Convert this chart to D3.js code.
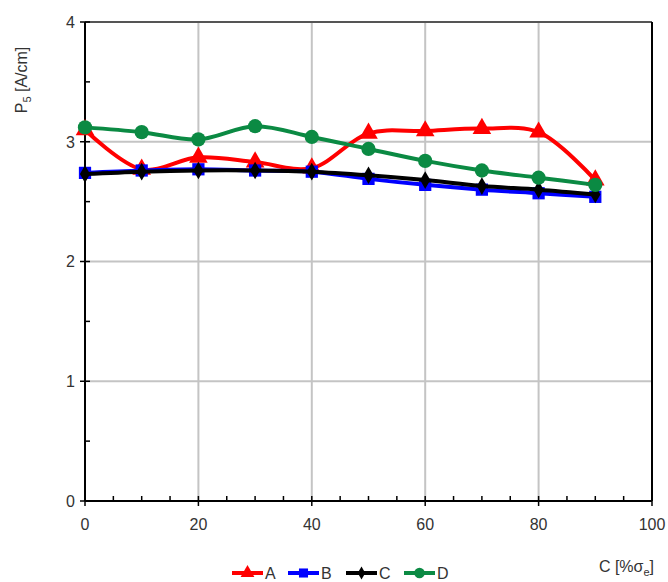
<!DOCTYPE html>
<html>
<head>
<meta charset="utf-8">
<script src="https://cdn.jsdelivr.net/npm/d3@7"></script>
<style>
  body { margin: 0; background: #fff; }
  svg text { font-family: "Liberation Sans", Arial, sans-serif; fill: #333; }
</style>
</head>
<body>
<div id="chart"></div>
<script>
// chart data
var xValues = [0, 10, 20, 30, 40, 50, 60, 70, 80, 90];
var seriesA = [3.10, 2.77, 2.87, 2.83, 2.78, 3.07, 3.09, 3.11, 3.08, 2.68];
var seriesB = [2.74, 2.76, 2.77, 2.76, 2.75, 2.69, 2.64, 2.60, 2.57, 2.54];
var seriesC = [2.73, 2.75, 2.76, 2.76, 2.75, 2.72, 2.68, 2.63, 2.60, 2.56];
var seriesD = [3.12, 3.08, 3.02, 3.13, 3.04, 2.94, 2.84, 2.76, 2.70, 2.64];
var seriesNames = ["A", "B", "C", "D"];
var xTicks = [0, 20, 40, 60, 80, 100];
var yTicks = [0, 1, 2, 3, 4];

var width = 668, height = 582;
var margin = {top: 22, right: 16, bottom: 81, left: 85};

var svg = d3.select('#chart')
  .append('svg')
  .attr('width', width)
  .attr('height', height);

var x = d3.scaleLinear().domain([0, 100]).range([margin.left, width - margin.right]);
var y = d3.scaleLinear().domain([0, 4]).range([height - margin.bottom, margin.top]);

var styles = [
  {color: '#ff0000', marker: 'triangle', size: 150},
  {color: '#0000ff', marker: 'square', size: 150},
  {color: '#000000', marker: 'diamond', size: 90},
  {color: '#0b8a43', marker: 'circle', size: 160}
];
var symbolType = {
  triangle: d3.symbolTriangle,
  square: d3.symbolSquare,
  diamond: d3.symbolDiamond,
  circle: d3.symbolCircle
};

// grid lines
var grid = svg.append('g').attr('class', 'grid');
grid.selectAll('.vgrid')
  .data([20, 40, 60, 80])
  .enter().append('line')
  .attr('x1', function (d) { return x(d); })
  .attr('x2', function (d) { return x(d); })
  .attr('y1', y(0))
  .attr('y2', y(4))
  .style('stroke', '#c4c4c4')
  .style('stroke-width', '2px');
grid.selectAll('.hgrid')
  .data([1, 2, 3])
  .enter().append('line')
  .attr('x1', x(0))
  .attr('x2', x(100))
  .attr('y1', function (d) { return y(d); })
  .attr('y2', function (d) { return y(d); })
  .style('stroke', '#c4c4c4')
  .style('stroke-width', '2px');

// frame: top + right
svg.append('line')
  .attr('x1', x(0)).attr('x2', x(100))
  .attr('y1', y(4)).attr('y2', y(4))
  .style('stroke', '#555').style('stroke-width', '2px');
svg.append('line')
  .attr('x1', x(100)).attr('x2', x(100))
  .attr('y1', y(4)).attr('y2', y(0))
  .style('stroke', '#000').style('stroke-width', '2px');

// axes
var xAxis = svg.append('g')
  .attr('transform', 'translate(0,' + y(0) + ')');
xAxis.append('line')
  .attr('x1', x(0)).attr('x2', x(100))
  .style('stroke', '#000').style('stroke-width', '2px');
xAxis.selectAll('.minor')
  .data(d3.range(0, 101, 5))
  .enter().append('line')
  .attr('x1', function (d) { return x(d); })
  .attr('x2', function (d) { return x(d); })
  .attr('y1', function (d) { return d % 20 === 0 ? 5 : 0; })
  .attr('y2', -5)
  .style('stroke', '#000').style('stroke-width', '1.5px');
xAxis.selectAll('.lbl')
  .data(xTicks)
  .enter().append('text')
  .attr('x', function (d) { return x(d); })
  .attr('y', 29)
  .attr('text-anchor', 'middle')
  .style('font-size', '16px')
  .text(function (d) { return d; });

var yAxis = svg.append('g')
  .attr('transform', 'translate(' + x(0) + ',0)');
yAxis.append('line')
  .attr('y1', y(0)).attr('y2', y(4))
  .style('stroke', '#000').style('stroke-width', '2px');
yAxis.selectAll('.minor')
  .data(d3.range(0, 4.01, 0.5))
  .enter().append('line')
  .attr('y1', function (d) { return y(d); })
  .attr('y2', function (d) { return y(d); })
  .attr('x1', function (d) { return d % 1 === 0 ? -5 : 0; })
  .attr('x2', 5)
  .style('stroke', '#000').style('stroke-width', '1.5px');
yAxis.selectAll('.lbl')
  .data(yTicks)
  .enter().append('text')
  .attr('x', -10)
  .attr('y', function (d) { return y(d); })
  .attr('dy', '0.36em')
  .attr('text-anchor', 'end')
  .style('font-size', '16px')
  .text(function (d) { return d; });

// axis titles
var yTitle = svg.append('text')
  .attr('transform', 'translate(27,80) rotate(-90)')
  .attr('text-anchor', 'middle')
  .style('font-size', '16px');
yTitle.append('tspan').text('P');
yTitle.append('tspan').attr('dy', 4).style('font-size', '11px').text('5');
yTitle.append('tspan').attr('dy', -4).text(' [A/cm]');

var xTitle = svg.append('text')
  .attr('x', 654)
  .attr('y', 572)
  .attr('text-anchor', 'end')
  .style('font-size', '16px');
xTitle.append('tspan').text('C [%σ');
xTitle.append('tspan').attr('dy', 4).style('font-size', '11px').text('e');
xTitle.append('tspan').attr('dy', -4).text(']');

// series
var allSeries = [seriesA, seriesB, seriesC, seriesD];
var line = d3.line()
  .curve(d3.curveCatmullRom.alpha(0.5))
  .x(function (d) { return x(d.x); })
  .y(function (d) { return y(d.v); });

allSeries.forEach(function (vals, i) {
  var pts = vals.map(function (v, j) { return {x: xValues[j], v: v}; });
  var st = styles[i];
  var g = svg.append('g').attr('class', 'series series' + i);
  g.append('path')
    .datum(pts)
    .attr('d', line)
    .style('fill', 'none')
    .style('stroke', st.color)
    .style('stroke-width', '4px')
    .style('stroke-linejoin', 'round');
  g.selectAll('.marker')
    .data(pts)
    .enter().append('path')
    .attr('class', 'marker')
    .attr('transform', function (d) { return 'translate(' + x(d.x) + ',' + y(d.v) + ')'; })
    .attr('d', d3.symbol().type(symbolType[st.marker]).size(st.size))
    .style('fill', st.color);
});

// legend
var legendX = [232, 288, 346, 404];
var legend = svg.append('g').attr('class', 'legend');
seriesNames.forEach(function (name, i) {
  var st = styles[i];
  var lg = legend.append('g').attr('transform', 'translate(' + legendX[i] + ',573)');
  lg.append('line')
    .attr('x1', 0).attr('x2', 31)
    .style('stroke', st.color).style('stroke-width', '4px');
  lg.append('path')
    .attr('transform', 'translate(15.5,0)')
    .attr('d', d3.symbol().type(symbolType[st.marker]).size(st.size * 0.55))
    .style('fill', st.color);
  lg.append('text')
    .attr('x', 33)
    .attr('y', 6)
    .style('font-size', '16px')
    .text(name);
});
</script>
</body>
</html>
